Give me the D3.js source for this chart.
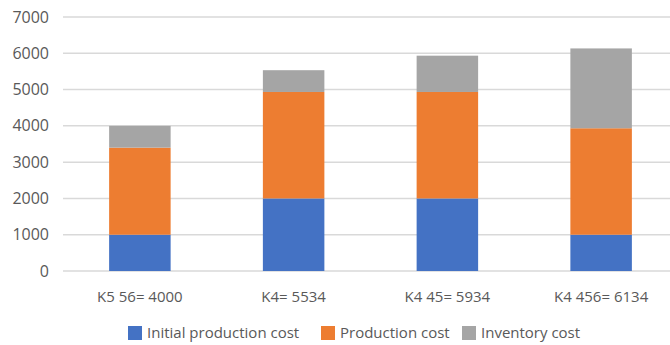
<!DOCTYPE html>
<html>
<head>
<meta charset="utf-8">
<script src="https://cdn.jsdelivr.net/npm/d3@7"></script>
<style>
  html, body { margin: 0; padding: 0; background: #fff; }
  svg { display: block; font-family: "Open Sans", "Noto Sans", sans-serif; }
</style>
</head>
<body>
<svg id="chart" width="670" height="345"></svg>
<script>
// Cost breakdown per production schedule
const categories = ["K5 56= 4000", "K4= 5534", "K4 45= 5934", "K4 456= 6134"];
const seriesNames = ["Initial production cost", "Production cost", "Inventory cost"];
const initialCost = [1000, 2000, 2000, 1000];
const productionCost = [2400, 2934, 2934, 2934];
const inventoryCost = [600, 600, 1000, 2200];
const yTicks = [0, 1000, 2000, 3000, 4000, 5000, 6000, 7000];
const colors = ["#4472c4", "#ed7d31", "#a5a5a5"];

const rows = categories.map((c, i) => ({
  cat: c,
  [seriesNames[0]]: initialCost[i],
  [seriesNames[1]]: productionCost[i],
  [seriesNames[2]]: inventoryCost[i]
}));

const svg = d3.select("#chart");
const W = 670;
const plotLeft = 63, plotTop = 17, plotBottom = 271;
const textColor = "#595959";

const x = d3.scaleBand().domain(categories).range([plotLeft, 678]).paddingInner(0.6).paddingOuter(0.3);
const y = d3.scaleLinear().domain([0, 7000]).range([plotBottom, plotTop]);

// Gridlines
svg.append("g").selectAll("line").data(yTicks).join("line")
  .attr("x1", plotLeft).attr("x2", W)
  .attr("y1", d => y(d)).attr("y2", d => y(d))
  .attr("stroke", "#d9d9d9").attr("stroke-width", 1.5);

// Y axis labels
const yAxis = d3.axisLeft(y).tickValues(yTicks).tickSize(0).tickPadding(0).tickFormat(d3.format("d"));
svg.append("g").attr("transform", "translate(49,0)").call(yAxis)
  .call(g => g.select(".domain").remove())
  .selectAll("text").attr("fill", textColor).attr("font-size", 16)
  .attr("font-family", "'Open Sans', sans-serif");

// Stacked bars
const stack = d3.stack().keys(seriesNames);
const layers = stack(rows);
svg.append("g").selectAll("g").data(layers).join("g")
  .attr("fill", (d, i) => colors[i])
  .selectAll("rect").data(d => d).join("rect")
  .attr("x", d => x(d.data.cat))
  .attr("width", x.bandwidth())
  .attr("y", d => y(d[1]))
  .attr("height", d => y(d[0]) - y(d[1]));

// X axis labels
const xAxis = d3.axisBottom(x).tickSize(0).tickPadding(0);
svg.append("g").attr("transform", `translate(0,${plotBottom + 20})`).call(xAxis)
  .call(g => g.select(".domain").remove())
  .selectAll("text").attr("fill", textColor).attr("font-size", 15)
  .attr("font-family", "'Open Sans', sans-serif");

// Legend
const legendX = [128, 321, 462];
const legend = svg.append("g").selectAll("g").data(seriesNames).join("g")
  .attr("transform", (d, i) => `translate(${legendX[i]},326)`);
legend.append("rect").attr("width", 14).attr("height", 14).attr("fill", (d, i) => colors[i]);
legend.append("text").attr("x", 19).attr("y", 7).attr("dy", "0.35em")
  .attr("fill", textColor).attr("font-size", 15).text(d => d);
</script>
</body>
</html>
